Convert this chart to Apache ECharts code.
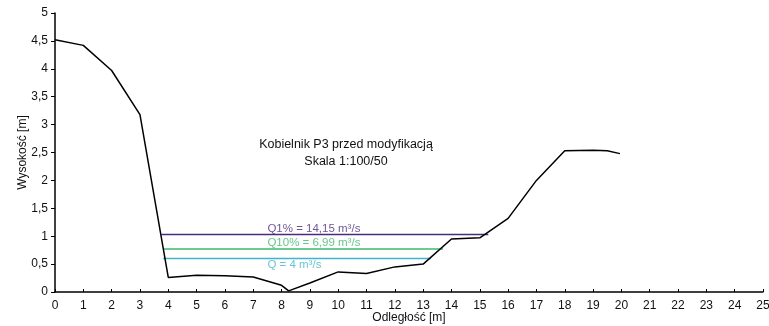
<!DOCTYPE html>
<html><head><meta charset="utf-8">
<script src="https://cdn.jsdelivr.net/npm/echarts@6/dist/echarts.min.js"></script>
<style>html,body{margin:0;padding:0;background:#fff}#c{width:769px;height:326px}</style>
</head><body><div id="c"></div>
<script>
const profileX = [0, 1, 2, 3, 4, 5, 6, 7, 8, 8.25, 9, 10, 11, 12, 13, 14, 15, 16, 17, 18, 19, 19.5, 19.95];
const profileY = [4.52, 4.42, 3.97, 3.18, 0.26, 0.30, 0.29, 0.27, 0.12, 0.02, 0.16, 0.36, 0.33, 0.45, 0.50, 0.95, 0.97, 1.32, 2.00, 2.53, 2.54, 2.53, 2.48];
const waterNames = ['Q1% = 14,15 m³/s', 'Q10% = 6,99 m³/s', 'Q = 4 m³/s'];
const waterLevels = [1.03, 0.77, 0.60];
const waterStart = [3.76, 3.82, 3.82];
const waterEnd = [15.3, 13.7, 13.28];
const waterColors = ['#4a2c7c', '#3dba6e', '#40b4cc'];
const labelX = [7.5, 7.5, 7.5];
const labelY = [1.13, 0.88, 0.49];
const titleLines = ['Kobielnik P3 przed modyfikacją', 'Skala 1:100/50'];

const chart = echarts.init(document.getElementById('c'));
const font = 'Liberation Sans, Arial, sans-serif';
const series = [{
  type: 'line', data: profileX.map((x, i) => [x, profileY[i]]),
  symbol: 'none', lineStyle: {color: '#000', width: 1.5}, z: 5
}];
waterLevels.forEach((lv, i) => {
  series.push({
    type: 'line', data: [[waterStart[i], lv], [waterEnd[i], lv]],
    symbol: 'none', lineStyle: {color: waterColors[i], width: 1.5}, z: 3
  });
  series.push({
    type: 'scatter', data: [[labelX[i], labelY[i]]], symbolSize: 0,
    label: {show: true, position: 'right', distance: 0, formatter: waterNames[i],
      color: waterColors[i], fontFamily: font, fontSize: 11.5}
  });
});
chart.setOption({
  animation: false,
  title: {text: titleLines.join('\n'), left: 341, top: 131, textAlign: 'center',
    textStyle: {fontFamily: font, fontSize: 12.5, fontWeight: 'normal', color: '#111', lineHeight: 17}},
  grid: {left: 55, right: 6, top: 13, bottom: 34, containLabel: false, outerBoundsMode: 'none'},
  xAxis: {type: 'value', min: 0, max: 25, interval: 1,
    name: 'Odległość [m]', nameLocation: 'middle', nameGap: 20, nameMoveOverlap: false,
    nameTextStyle: {fontFamily: font, fontSize: 12, color: '#111'},
    axisLine: {lineStyle: {color: '#000', width: 1.5}},
    axisTick: {show: true, inside: true, length: 3, lineStyle: {color: '#000'}},
    axisLabel: {fontFamily: font, fontSize: 12, color: '#111', margin: 8},
    splitLine: {show: false}},
  yAxis: {type: 'value', min: 0, max: 5, interval: 0.5,
    name: 'Wysokość [m]', nameLocation: 'middle', nameGap: 26, nameMoveOverlap: false,
    nameTextStyle: {fontFamily: font, fontSize: 12, color: '#111'},
    axisLine: {show: true, lineStyle: {color: '#000', width: 1.5}},
    axisTick: {show: true, length: 4, lineStyle: {color: '#000'}},
    axisLabel: {fontFamily: font, fontSize: 12, color: '#111', margin: 7,
      formatter: v => String(v).replace('.', ',')},
    splitLine: {show: false}},
  series: series
});
</script></body></html>
